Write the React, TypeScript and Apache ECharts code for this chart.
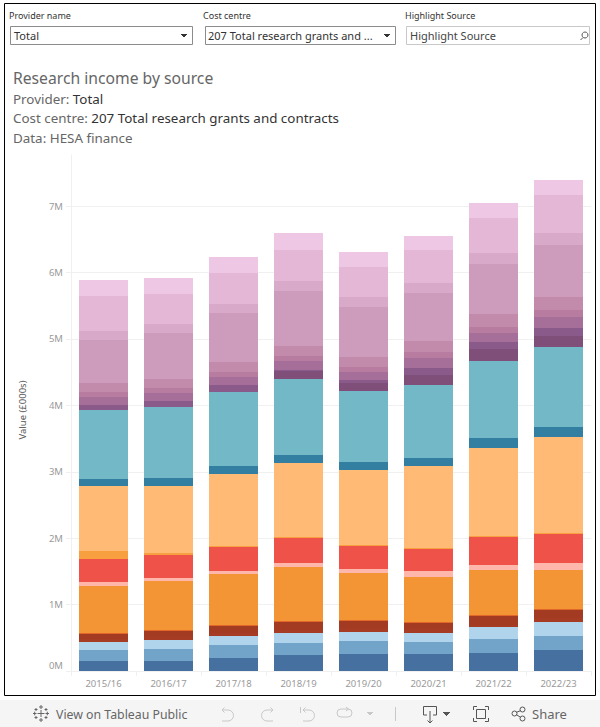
import React, { useEffect, useRef } from "react";
import * as echarts from "echarts";

const years = ["2015/16", "2016/17", "2017/18", "2018/19", "2019/20", "2020/21", "2021/22", "2022/23"];

const blue = [151, 151, 196, 241, 256, 256, 271, 316];
const midBlue = [166, 181, 196, 181, 196, 181, 211, 211];
const lightBlue = [120, 136, 136, 151, 136, 136, 181, 211];
const darkRedA = [45, 45, 45, 45, 60, 60, 35, 65];
const darkRedB = [75, 90, 105, 120, 105, 90, 130, 115];
const darkOrange = [15, 15, 15, 15, 15, 15, 15, 15];
const orange = [708, 733, 768, 813, 708, 678, 678, 587];
const pink = [60, 50, 45, 60, 60, 90, 75, 105];
const red = [346, 346, 361, 377, 346, 331, 422, 437];
const midOrange = [120, 30, 15, 15, 15, 15, 15, 15];
const lightOrange = [979, 1009, 1084, 1114, 1130, 1235, 1325, 1446];
const darkTeal = [105, 120, 120, 120, 120, 120, 151, 151];
const teal = [1039, 1069, 1114, 1145, 1069, 1099, 1160, 1205];
const plum = [0, 0, 0, 120, 120, 151, 181, 166];
const purple1 = [75, 90, 105, 15, 45, 105, 105, 120];
const purple2 = [120, 120, 120, 136, 120, 151, 136, 166];
const purple3 = [75, 75, 75, 75, 75, 90, 90, 105];
const purple4 = [136, 136, 151, 151, 151, 166, 196, 196];
const purple5 = [648, 693, 738, 828, 753, 723, 753, 783];
const purple6 = [136, 136, 136, 151, 151, 151, 166, 181];
const purple7 = [527, 452, 467, 467, 452, 497, 527, 572];
const purple8 = [241, 241, 241, 256, 226, 211, 226, 226];

const layers: [number[], string][] = [
  [blue, "#4570a0"], [midBlue, "#72a3c9"], [lightBlue, "#afd4eb"],
  [darkRedA, "#a63c24"], [darkRedB, "#a33b22"], [darkOrange, "#e2682a"],
  [orange, "#f49535"], [pink, "#ffb7ac"], [red, "#ef5249"],
  [midOrange, "#f8a040"], [lightOrange, "#ffbb76"], [darkTeal, "#337fa2"],
  [teal, "#72b8c6"], [plum, "#7f4e79"], [purple1, "#8a5b8a"],
  [purple2, "#a56f99"], [purple3, "#b77ca0"], [purple4, "#c38bab"],
  [purple5, "#cd9bbb"], [purple6, "#d9a9c9"], [purple7, "#e5b7d6"], [purple8, "#edc7e3"],
];

echarts.graphic.registerShape("tbUndo", echarts.graphic.extendPath("M2 3 H8 A5.5 5.5 0 0 1 8 14 H2 M4.5 0.5 L2 3 L4.5 5.5", {}));
echarts.graphic.registerShape("tbRedo", echarts.graphic.extendPath("M13 3 H7 A5.5 5.5 0 0 0 7 14 H13 M10.5 0.5 L13 3 L10.5 5.5", {}));
echarts.graphic.registerShape("tbRevert", echarts.graphic.extendPath("M0.5 0 V6 M3 3 H9 A5.5 5.5 0 0 1 9 14 H3 M5.5 0.5 L3 3 L5.5 5.5", {}));
echarts.graphic.registerShape("tbRefresh", echarts.graphic.extendPath("M12 2 H5 A4 4 0 0 0 5 10 H12 A4 4 0 0 0 12 2 M10 0 L12.5 2 L10 4", {}));
echarts.graphic.registerShape("tbDown", echarts.graphic.extendPath("M4 9 H0.5 V0.5 H13.5 V9 H10 M7 5 V17 M4.5 14.5 L7 17 L9.5 14.5", {}));
echarts.graphic.registerShape("tbFull", echarts.graphic.extendPath("M0.5 4 V0.5 H4 M12 0.5 H15.5 V4 M15.5 12 V15.5 H12 M4 15.5 H0.5 V12 M3.5 3.5 H12.5 V12.5 H3.5 Z", {}));
echarts.graphic.registerShape("tbShare", echarts.graphic.extendPath("M5 6.5 A2.5 2.5 0 1 1 0 6.5 A2.5 2.5 0 1 1 5 6.5 M13 2.5 A2.5 2.5 0 1 1 8 2.5 A2.5 2.5 0 1 1 13 2.5 M13 11.5 A2.5 2.5 0 1 1 8 11.5 A2.5 2.5 0 1 1 13 11.5 M4.5 5.3 L8.5 3.7 M4.5 7.7 L8.5 10.3", {}));
echarts.graphic.registerShape("tbLogo", echarts.graphic.extendPath("M8 5 V12 M4.5 8.5 H11.5 M8 0 V4 M6 2 H10 M8 13 V17 M6 15 H10 M0 8.5 H3.5 M1.7 6.7 V10.3 M12.5 8.5 H16 M14.3 6.7 V10.3 M3 3 V6 M1.5 4.5 H4.5 M13 3 V6 M11.5 4.5 H14.5 M3 11 V14 M1.5 12.5 H4.5 M13 11 V14 M11.5 12.5 H14.5", {}));

const FONT = "'Noto Sans', sans-serif";
const txt = (x: number, y: number, text: string, fontSize: number, fill: string, extra: any = {}) => ({
  type: "text", x, y, silent: true,
  style: { text, fontSize, fill, fontFamily: FONT, textVerticalAlign: "middle", ...extra },
});
const box = (x: number, y: number, w: number, h: number, stroke: string, lineWidth = 1, fill = "transparent") => ({
  type: "rect", shape: { x: x + 0.5, y: y + 0.5, width: w, height: h }, silent: true,
  style: { fill, stroke, lineWidth },
});
const ln = (x1: number, y1: number, x2: number, y2: number, stroke: string, lineWidth = 1) => ({
  type: "line", shape: { x1, y1, x2, y2 }, silent: true, style: { stroke, lineWidth },
});
const tri = (cx: number, cy: number, fill: string, s = 3.5) => ({
  type: "polygon", shape: { points: [[cx - s, cy - 2], [cx + s, cy - 2], [cx, cy + 2]] }, silent: true, style: { fill },
});
const icon = (type: string, x: number, y: number, stroke: string) => ({
  type, x, y, silent: true, style: { fill: "none", stroke, lineWidth: 1 },
});
const richLine = (y: number, a: string, b: string) => ({
  type: "text", x: 13, y, silent: true,
  style: {
    rich: {
      a: { fontSize: 13.4, fill: "#666", fontFamily: FONT },
      b: { fontSize: 13.4, fill: "#333", fontFamily: FONT },
    },
    text: b ? `{a|${a}}{b|${b}}` : `{a|${a}}`,
    textVerticalAlign: "middle",
  },
});

export default function App() {
  const ref = useRef<HTMLDivElement>(null);
  useEffect(() => {
    document.body.style.margin = "0";
    const chart = echarts.init(ref.current!, null, { renderer: "svg" });
    chart.setOption({
      animation: false,
      backgroundColor: "#ffffff",
      grid: { left: 71, right: 9, top: 155, bottom: 56 },
      xAxis: {
        type: "category", data: years,
        axisLine: { lineStyle: { color: "#f0f0f0" } },
        axisTick: { show: true, length: 5, lineStyle: { color: "#f0f0f0" } },
        axisLabel: { color: "#9a9a9a", fontSize: 9.5, fontFamily: FONT, margin: 7 },
      },
      yAxis: {
        type: "value", min: 0, max: 7771, interval: 1000,
        axisLine: { show: true, lineStyle: { color: "#f0f0f0" } },
        axisTick: { show: true, length: 5, lineStyle: { color: "#f0f0f0" } },
        splitLine: { show: true, showMaxLine: false, lineStyle: { color: "#f0f0f0" } },
        axisLabel: {
          color: "#9a9a9a", fontSize: 9.5, fontFamily: FONT, margin: 8, showMaxLabel: false,
          formatter: (v: number) => (v === 0 ? "{z|0M}" : `${v / 1000}M`),
          rich: { z: { color: "#9a9a9a", fontSize: 9.5, fontFamily: FONT, padding: [0, 0, 12, 0] } },
        },
      },
      series: layers.map(([data, color]) => ({
        type: "bar", stack: "total", data, barWidth: 49,
        itemStyle: { color, borderWidth: 0 }, silent: true,
      })),
      graphic: { elements: [
        { type: "rect", shape: { x: 0, y: 700, width: 600, height: 27 }, silent: true, style: { fill: "#f5f5f5" } },
        box(4, 3, 591, 692, "#000", 1),
        txt(9, 15, "Provider name", 9, "#333"),
        box(10, 26, 182, 18, "#8c8c8c", 1, "#fff"),
        txt(14, 35, "Total", 11, "#333"),
        tri(184, 36, "#333"),
        txt(203, 15, "Cost centre", 9, "#333"),
        box(205, 26, 190, 18, "#8c8c8c", 1, "#fff"),
        txt(208, 35, "207 Total research grants and ...", 11, "#333"),
        tri(387, 36, "#333"),
        txt(405, 15, "Highlight Source", 9, "#333"),
        box(406, 26, 183, 18, "#c8c8c8", 1, "#fff"),
        txt(410, 35, "Highlight Source", 11, "#444"),
        { type: "circle", shape: { cx: 585, cy: 35, r: 3 }, silent: true, style: { fill: "transparent", stroke: "#555", lineWidth: 1 } },
        ln(580.5, 40, 583, 37.5, "#555"),
        txt(13, 78, "Research income by source", 15.7, "#666"),
        richLine(99, "Provider: ", "Total"),
        richLine(118, "Cost centre: ", "207 Total research grants and contracts"),
        richLine(138, "Data: HESA finance", ""),
        { type: "text", x: 22, y: 410, rotation: Math.PI / 2, silent: true,
          style: { text: "Value (£000s)", fontSize: 9.5, fill: "#555", fontFamily: FONT, align: "center", verticalAlign: "middle" } },
        // toolbar
        icon("tbLogo", 33, 705, "#666"),
        txt(56, 714, "View on Tableau Public", 12.3, "#666"),
        icon("tbUndo", 220, 707, "#c8c8c8"),
        icon("tbRedo", 260, 707, "#c8c8c8"),
        icon("tbRevert", 300, 707, "#c8c8c8"),
        icon("tbRefresh", 336, 707, "#c8c8c8"),
        tri(370, 714, "#c8c8c8", 3.5),
        ln(395.5, 707, 395.5, 721, "#c8c8c8"),
        icon("tbDown", 423, 706, "#555"),
        tri(446.5, 714, "#555", 3.5),
        icon("tbFull", 473, 706, "#555"),
        icon("tbShare", 512, 707, "#555"),
        txt(532, 714, "Share", 13, "#666"),
      ] },
    });
    return () => chart.dispose();
  }, []);
  return (
    <>
      <style>{"path[fill]:not([stroke]){shape-rendering:crispEdges}"}</style>
      <div ref={ref} style={{ width: 600, height: 727 }} />
    </>
  );
}
